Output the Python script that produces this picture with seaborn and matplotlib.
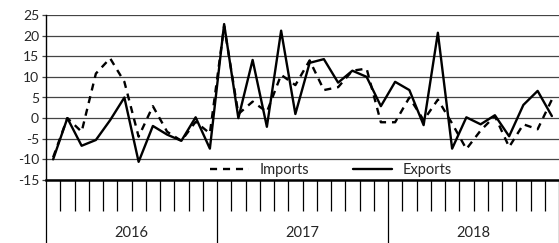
import numpy as np
import pandas as pd
import matplotlib
matplotlib.use("Agg")
import matplotlib.pyplot as plt
import seaborn as sns

# 数据 (按月, 2016-01 ~ 2018-12)
years = ["2016", "2017", "2018"]
imports = [-9.5, 0, -3.3, 10.8, 14.5, 8.8, -4.5, 2.9, -3.3, -5.5, -0.9, -3.7,
           22.3, 1, 4, 1.5, 10.5, 8, 14, 6.8, 7.5, 11.5, 12, -1,
           -1, 5, -0.5, 4.5, -1.3, -7.5, -3, 0.5, -7, -1.5, -2.7, 4.5]
exports = [-10, 0, -6.7, -5.3, -0.5, 5.0, -10.6, -1.9, -4, -5.5, 0.2, -7.4,
           22.8, 0, 14.1, -2.1, 21.2, 1.0, 13.4, 14.3, 8.6, 11.5, 10.0, 2.9,
           8.8, 6.8, -1.7, 20.7, -7.4, 0.2, -1.5, 0.7, -4.4, 3.2, 6.6, 0.5]

n = len(exports)
df = pd.DataFrame({"month": np.arange(n), "Imports": imports, "Exports": exports})
df_long = df.melt(id_vars="month", var_name="series", value_name="value")

sns.set_style("white")
plt.rcParams["font.family"] = ["Lato", "DejaVu Sans"]
plt.rcParams["axes.unicode_minus"] = False
font_size = 10

fig = plt.figure(figsize=(5.59, 2.43), dpi=100)
ax = fig.add_axes([46 / 559, 1 - 180 / 243, 513 / 559, 165 / 243])

sns.lineplot(data=df_long, x="month", y="value", style="series",
             style_order=["Imports", "Exports"],
             dashes={"Imports": (3, 2.5), "Exports": ""},
             color="black", linewidth=1.7, ax=ax, legend=False)

# 轴范围与网格
ax.set_xlim(-0.5, n - 0.5)
ax.set_ylim(-15, 25)
ax.set_yticks(np.arange(-15, 26, 5))
ax.yaxis.grid(True, color="#444444", linewidth=0.9)
ax.set_axisbelow(True)
ax.tick_params(axis="y", labelsize=font_size, length=3, width=0.9,
               color="#444444", pad=2, left=True)
ax.set_xlabel("")
ax.set_ylabel("")

# 边框
for s in ["top", "right"]:
    ax.spines[s].set_visible(False)
ax.spines["left"].set_color("black")
ax.spines["left"].set_linewidth(1.0)
ax.spines["bottom"].set_color("black")
ax.spines["bottom"].set_linewidth(1.8)

# x轴: 月份刻度 + 年份分隔
year_edges = np.arange(0, n + 1, 12) - 0.5
month_edges = [m - 0.5 for m in range(1, n) if m % 12 != 0]
ax.set_xticks(year_edges)
ax.set_xticklabels([])
ax.set_xticks(month_edges, minor=True)
ax.tick_params(axis="x", which="major", direction="out", length=46, width=0.9,
               color="black", bottom=True)
ax.tick_params(axis="x", which="minor", direction="out", length=22.5, width=0.9,
               color="black", bottom=True)

# 年份标签
trans = matplotlib.transforms.blended_transform_factory(ax.transData, ax.transAxes)
for i, yr in enumerate(years):
    ax.text(i * 12 + 5.5, -0.32, yr, transform=trans, ha="center", va="center",
            fontsize=font_size + 0.5)

# 图例
from matplotlib.lines import Line2D
handles = [
    Line2D([], [], color="black", linewidth=1.7, linestyle=(0, (3, 2.5))),
    Line2D([], [], color="black", linewidth=1.7),
]
ax.legend(handles, ["Imports", "Exports"], loc="center", bbox_to_anchor=(0.555, 0.062),
          ncol=2, frameon=False, fontsize=font_size + 0.5, handlelength=2.7,
          handletextpad=0.7, columnspacing=3.0, borderpad=0, borderaxespad=0)

plt.savefig("out.png", dpi=100)
